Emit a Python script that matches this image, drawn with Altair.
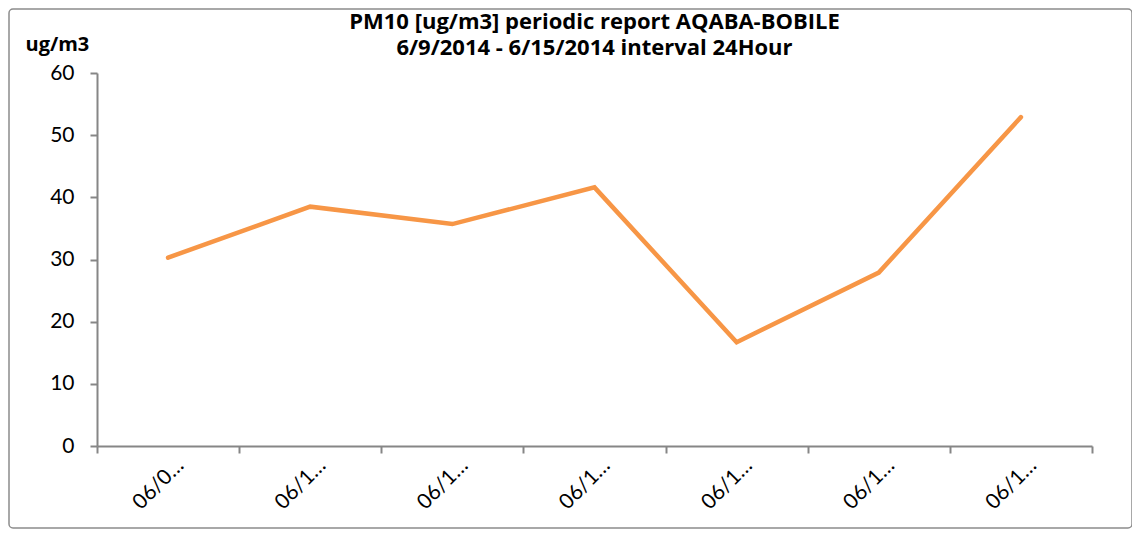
import altair as alt
import pandas as pd

dates = ["06/09/2014", "06/10/2014", "06/11/2014", "06/12/2014",
         "06/13/2014", "06/14/2014", "06/15/2014"]
pm10 = [30.3, 38.5, 35.7, 41.6, 16.7, 27.9, 52.9]
title_lines = ["PM10 [ug/m3] periodic report AQABA-BOBILE",
               "6/9/2014 - 6/15/2014 interval 24Hour"]
y_ticks = [0, 10, 20, 30, 40, 50, 60]

df = pd.DataFrame({"date": dates, "value": pm10})

FONT = "Lato"
TITLE_FONT = "Open Sans"
AXIS_GRAY = "#868686"

line = alt.Chart(df).mark_line(color="#F79646", strokeWidth=4.5, strokeCap="round",
                               strokeJoin="miter").encode(
    x=alt.X("date:N", sort=dates,
            scale=alt.Scale(paddingInner=0, paddingOuter=0),
            axis=alt.Axis(title=None, labelAngle=-45, labelAlign="right",
                          labelBaseline="middle", labelFontSize=21,
                          labelFont=FONT, labelColor="#000000",
                          labelPadding=9, labelOffset=12,
                          labelExpr="datum.label ? substring(datum.label, 0, 4) + '…' : ''",
                          tickBand="extent", tickSize=7, tickColor=AXIS_GRAY,
                          tickWidth=2, domainColor=AXIS_GRAY, domainWidth=2,
                          grid=False)),
    y=alt.Y("value:Q",
            scale=alt.Scale(domain=[0, 60], nice=False),
            axis=alt.Axis(values=y_ticks, title="ug/m3", titleAngle=0,
                          titleAlign="left", titleBaseline="middle",
                          titleX=-72, titleY=-29, titleFontSize=20,
                          titleFont=TITLE_FONT, titleFontWeight="bold",
                          titleColor="#000000",
                          labelFontSize=21, labelFont=FONT,
                          labelColor="#000000", labelPadding=16,
                          tickSize=7, tickColor=AXIS_GRAY, tickWidth=2,
                          domainColor=AXIS_GRAY, domainWidth=2, grid=False)),
)

frame = alt.Chart(pd.DataFrame({"k": [0]})).mark_rect(
    fill=None, stroke="#8c8c8c", strokeWidth=1.5, cornerRadius=4
).encode(
    x=alt.value(-88), x2=alt.value(1035),
    y=alt.value(-64), y2=alt.value(455),
)

chart = alt.layer(frame, line).properties(
    width=995,
    height=373,
    background="white",
    title=alt.TitleParams(text=title_lines, font=TITLE_FONT, fontSize=22,
                          fontWeight="bold", color="#000000",
                          anchor="middle", offset=0, dy=52, lineHeight=26),
    autosize=alt.AutoSizeParams(type="none"),
    padding={"left": 89, "top": 65, "right": 40, "bottom": 83},
).configure_view(stroke=None, strokeWidth=0).configure_axis(grid=False)

chart.save("out.html", embed_options={"renderer": "svg", "actions": False})
